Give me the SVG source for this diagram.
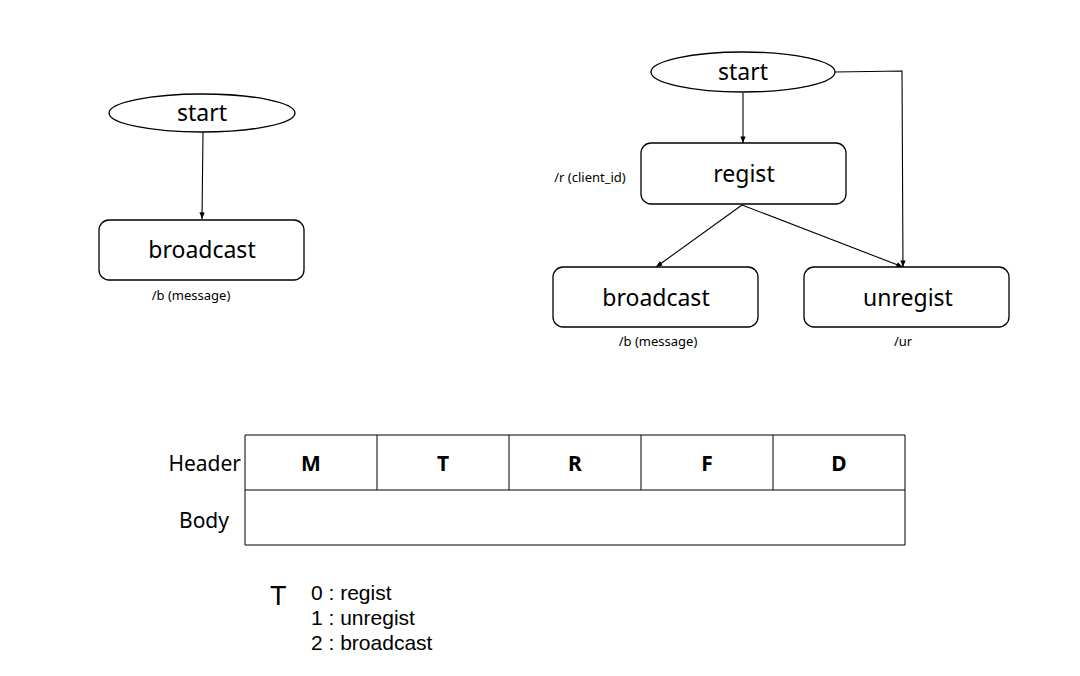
<svg xmlns="http://www.w3.org/2000/svg" width="1080" height="676" viewBox="0 0 1080 676">
<style>
.n{fill:#fff;stroke:#000;stroke-width:1.3}
.t{font-family:"Noto Sans","DejaVu Sans",sans-serif;fill:#000}
.lg{font-family:"Liberation Sans",Arial,sans-serif;fill:#000;font-size:21px}
.lt{font-size:27px}
.big{font-size:23px}
.sm{font-size:13px}
.c{stroke:#000;stroke-width:1.1;fill:none}
.g{stroke:#000;stroke-width:1;fill:none}
</style>
<defs>
<marker id="a" viewBox="0 0 10 10" refX="10" refY="5" markerWidth="6" markerHeight="6" orient="auto"><path d="M0,1 L10,5 L0,9 z" fill="#000"/></marker>
</defs>
<rect width="1080" height="676" fill="#fff"/>
<g id="connectors">
<line class="c" x1="203" y1="132" x2="202" y2="219" marker-end="url(#a)"/>
<line class="c" x1="743" y1="93" x2="743" y2="143" marker-end="url(#a)"/>
<line class="c" x1="742" y1="205" x2="656" y2="267" marker-end="url(#a)"/>
<line class="c" x1="742" y1="205" x2="903" y2="267" marker-end="url(#a)"/>
<polyline class="c" points="835,72 902,71 903,267" marker-end="url(#a)"/>
</g>
<g id="start1"><ellipse class="n" cx="202" cy="113" rx="93" ry="19"/><text class="t big" x="202" y="121" text-anchor="middle">start</text></g>
<g id="broadcast1"><rect class="n" x="99" y="220" width="205" height="60" rx="10"/><text class="t big" x="202" y="258" text-anchor="middle">broadcast</text></g>
<text class="t sm" x="191" y="300" text-anchor="middle">/b (message)</text>
<g id="start2"><ellipse class="n" cx="743" cy="72" rx="92" ry="20"/><text class="t big" x="743" y="80" text-anchor="middle">start</text></g>
<g id="regist"><rect class="n" x="641" y="143" width="205" height="61" rx="10"/><text class="t big" x="744" y="182" text-anchor="middle">regist</text></g>
<text class="t sm" x="590" y="182" text-anchor="middle">/r (client_id)</text>
<g id="broadcast2"><rect class="n" x="553" y="267" width="205" height="60" rx="10"/><text class="t big" x="656" y="306" text-anchor="middle">broadcast</text></g>
<text class="t sm" x="658" y="346" text-anchor="middle">/b (message)</text>
<g id="unregist"><rect class="n" x="804" y="267" width="205" height="60" rx="10"/><text class="t big" x="908" y="306" text-anchor="middle">unregist</text></g>
<text class="t sm" x="903" y="346" text-anchor="middle">/ur</text>
<g id="table">
<line class="g" x1="245" y1="435" x2="905" y2="435"/>
<line class="g" x1="245" y1="490" x2="905" y2="490"/>
<line class="g" x1="245" y1="545" x2="905" y2="545"/>
<line class="g" x1="245" y1="435" x2="245" y2="545"/>
<line class="g" x1="905" y1="435" x2="905" y2="545"/>
<line class="g" x1="377" y1="435" x2="377" y2="490"/>
<line class="g" x1="509" y1="435" x2="509" y2="490"/>
<line class="g" x1="641" y1="435" x2="641" y2="490"/>
<line class="g" x1="773" y1="435" x2="773" y2="490"/>
<text class="t" font-size="21" x="241" y="471" text-anchor="end">Header</text>
<text class="t" font-size="21" x="204" y="528" text-anchor="middle">Body</text>
<g font-weight="bold" font-size="21" text-anchor="middle">
<text class="t" x="311" y="471">M</text>
<text class="t" x="443" y="471">T</text>
<text class="t" x="575" y="471">R</text>
<text class="t" x="707" y="471">F</text>
<text class="t" x="839" y="471">D</text>
</g>
</g>
<g id="legend">
<text class="lg lt" x="270" y="605">T</text>
<text class="lg" x="311" y="600">0 : regist</text>
<text class="lg" x="311" y="625">1 : unregist</text>
<text class="lg" x="311" y="650">2 : broadcast</text>
</g>
</svg>
